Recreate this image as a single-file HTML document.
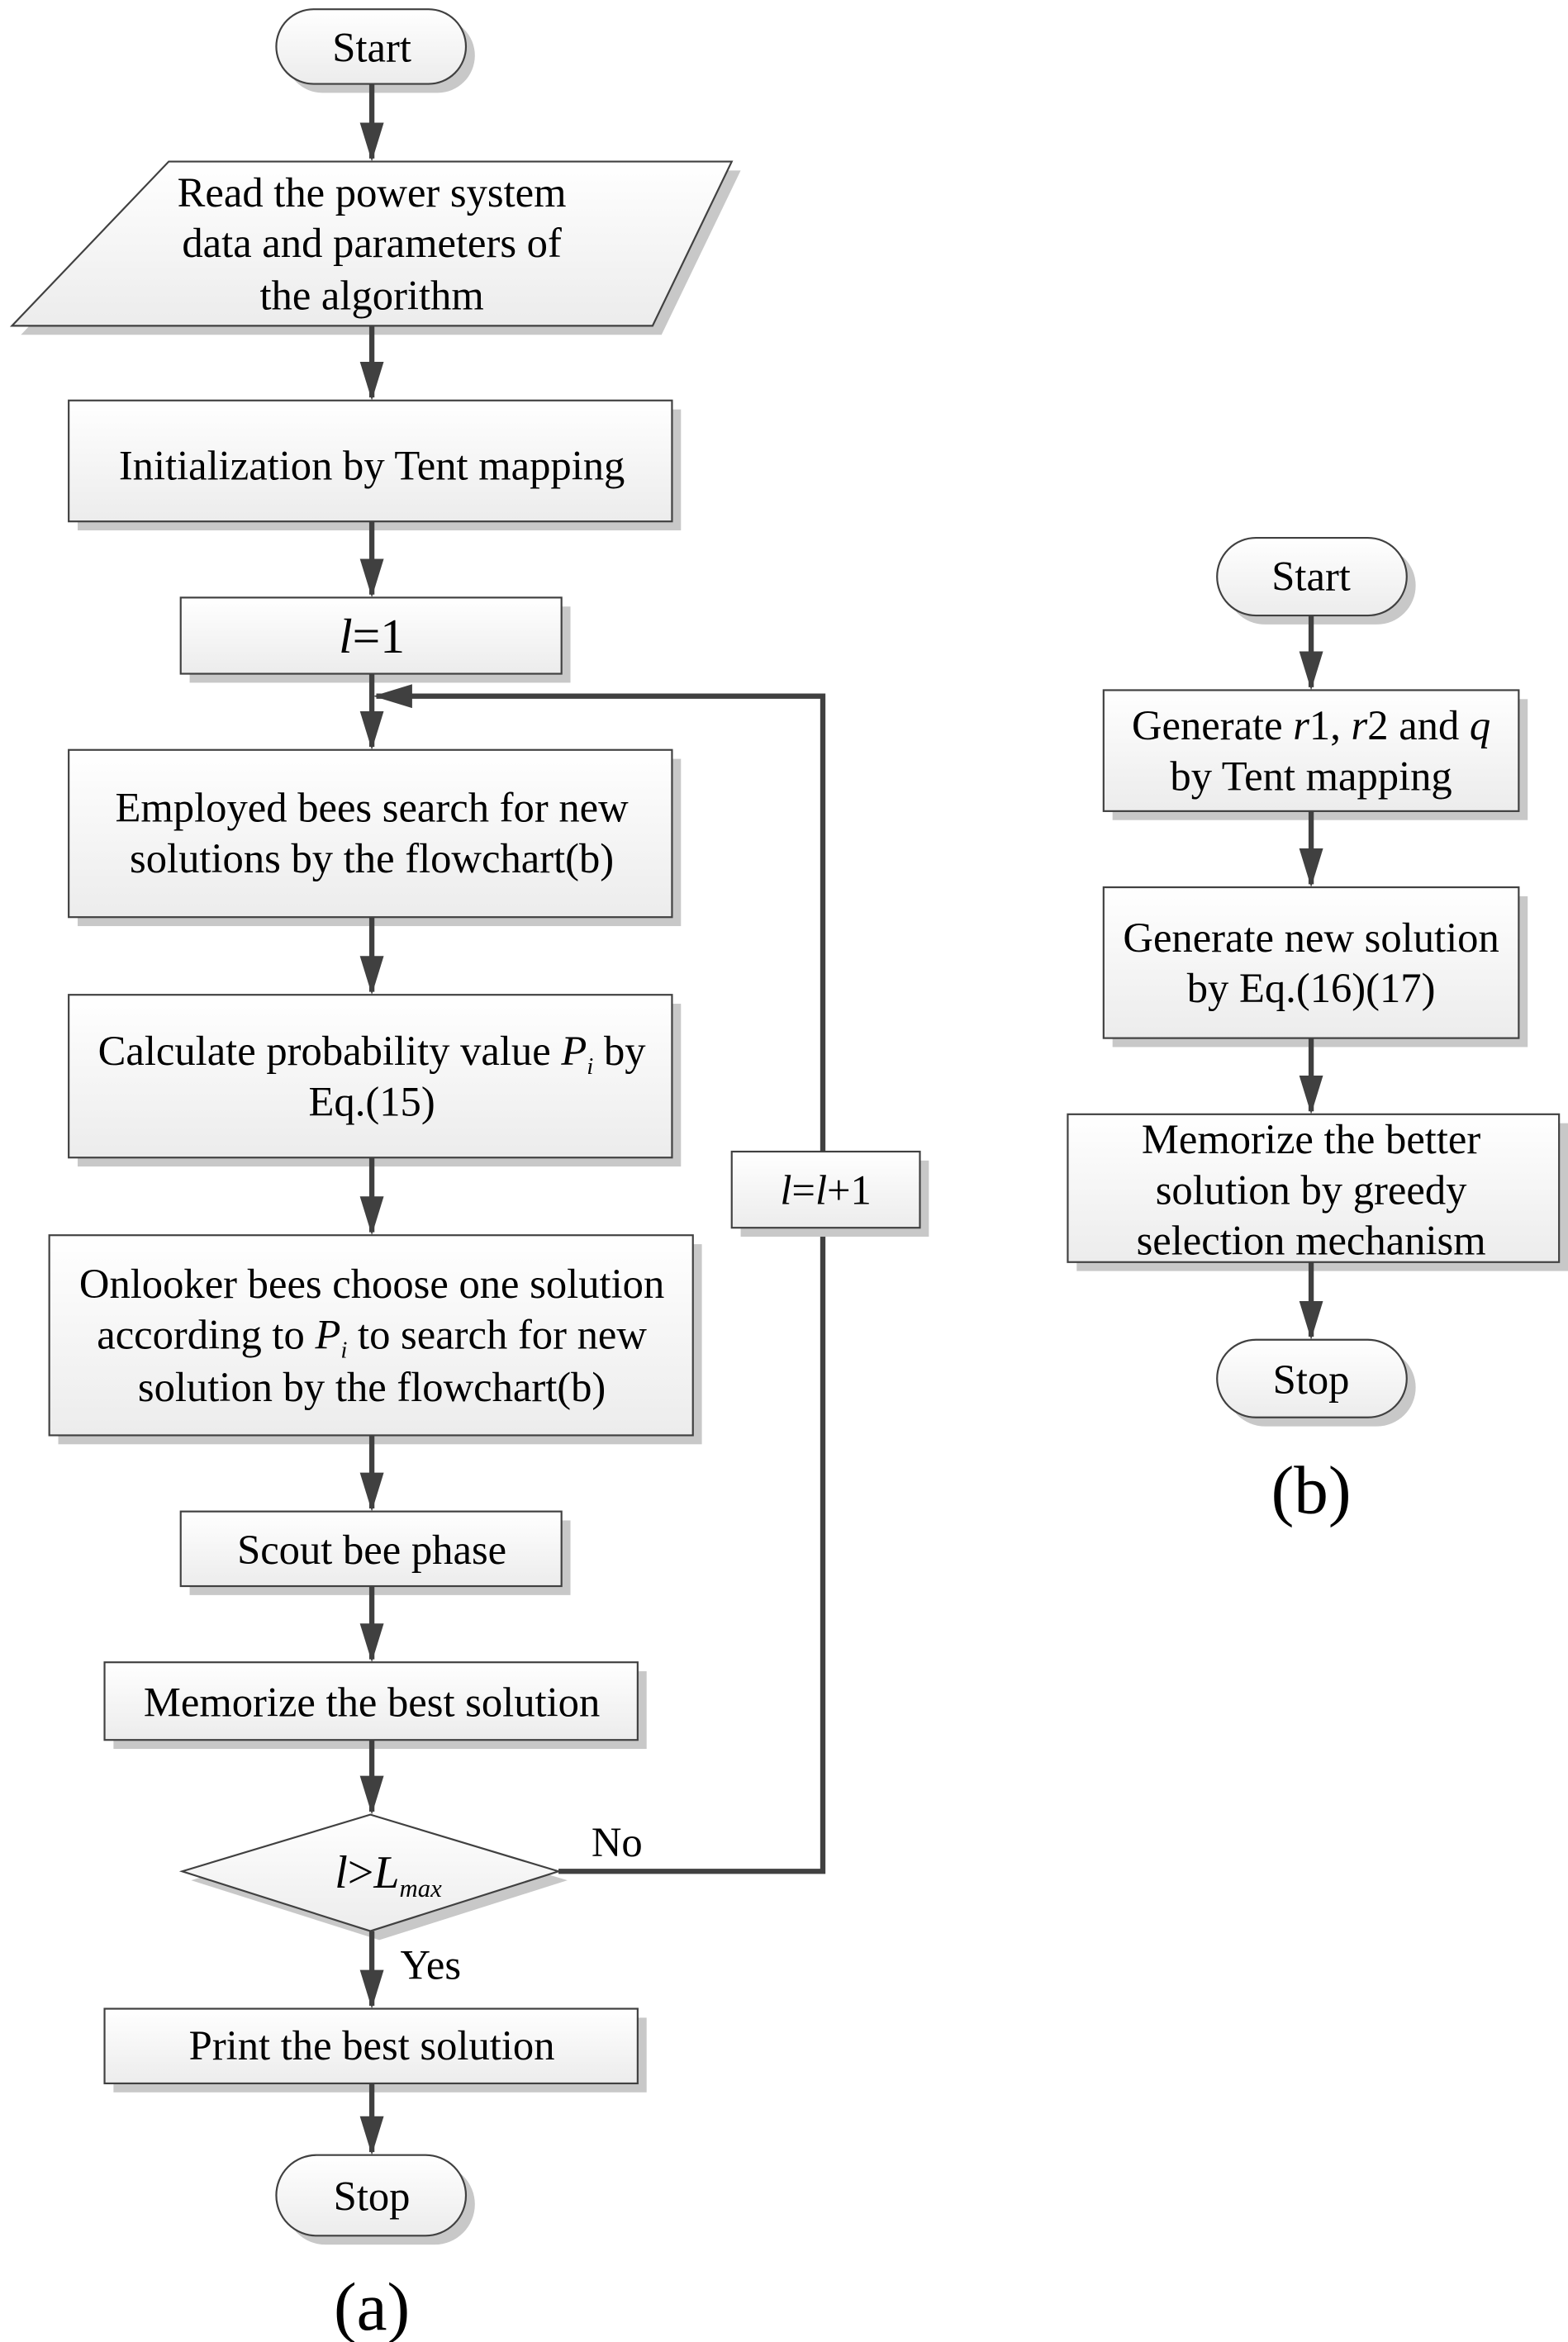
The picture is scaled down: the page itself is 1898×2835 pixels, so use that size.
<!DOCTYPE html>
<html><head><meta charset="utf-8"><style>html,body{margin:0;padding:0;background:#fff}svg{display:block}</style></head>
<body>
<svg width="1898" height="2835" viewBox="0 0 1050 1568" xmlns="http://www.w3.org/2000/svg" font-family="Liberation Serif, serif" font-size="28" fill="#000">
<defs>
<linearGradient id="g" x1="0" y1="0" x2="0" y2="1"><stop offset="0" stop-color="#ffffff"/><stop offset="1" stop-color="#ececec"/></linearGradient>
<marker id="ah" markerWidth="26" markerHeight="16" refX="24" refY="8" orient="auto" markerUnits="userSpaceOnUse" viewBox="0 0 26 16"><path d="M0,0 L26,8 L0,16 Z" fill="#404040"/></marker>
</defs>
<g stroke="#404040" stroke-width="3.5" fill="none" marker-end="url(#ah)">
<polyline points="374,1253 551,1253 551,466 252,466"/>
</g>
<g fill="#c8c8c8">
<rect x="191" y="12" width="127" height="50" rx="25"/>
<polygon points="119,114 496,114 443,224 14,224"/>
<rect x="52" y="274" width="404" height="81"/>
<rect x="127" y="406" width="255" height="51"/>
<rect x="52" y="508" width="404" height="112"/>
<rect x="52" y="672" width="404" height="109"/>
<rect x="39" y="833" width="431" height="134"/>
<rect x="127" y="1018" width="255" height="50"/>
<rect x="76" y="1119" width="357" height="52"/>
<rect x="496" y="777" width="126" height="51"/>
<polygon points="128,1259 254,1221 380,1259 254,1299"/>
<rect x="76" y="1351" width="357" height="50"/>
<rect x="191" y="1449" width="127" height="54" rx="27"/>
<rect x="821" y="366" width="127" height="52" rx="26"/>
<rect x="745" y="468" width="278" height="81"/>
<rect x="745" y="600" width="278" height="101"/>
<rect x="721" y="752" width="329" height="99"/>
<rect x="821" y="903" width="127" height="52" rx="26"/>
</g>
<g fill="url(#g)" stroke="#404040" stroke-width="1.2">
<rect x="185" y="6" width="127" height="50" rx="25"/>
<polygon points="113,108 490,108 437,218 8,218"/>
<rect x="46" y="268" width="404" height="81"/>
<rect x="121" y="400" width="255" height="51"/>
<rect x="46" y="502" width="404" height="112"/>
<rect x="46" y="666" width="404" height="109"/>
<rect x="33" y="827" width="431" height="134"/>
<rect x="121" y="1012" width="255" height="50"/>
<rect x="70" y="1113" width="357" height="52"/>
<rect x="490" y="771" width="126" height="51"/>
<polygon points="122,1253 248,1215 374,1253 248,1293"/>
<rect x="70" y="1345" width="357" height="50"/>
<rect x="185" y="1443" width="127" height="54" rx="27"/>
<rect x="815" y="360" width="127" height="52" rx="26"/>
<rect x="739" y="462" width="278" height="81"/>
<rect x="739" y="594" width="278" height="101"/>
<rect x="715" y="746" width="329" height="99"/>
<rect x="815" y="897" width="127" height="52" rx="26"/>
</g>
<g stroke="#404040" stroke-width="3.5" fill="none" marker-end="url(#ah)">
<line x1="249" y1="56" x2="249" y2="106"/>
<line x1="249" y1="218" x2="249" y2="266"/>
<line x1="249" y1="349" x2="249" y2="398"/>
<line x1="249" y1="451" x2="249" y2="500"/>
<line x1="249" y1="614" x2="249" y2="664"/>
<line x1="249" y1="775" x2="249" y2="825"/>
<line x1="249" y1="961" x2="249" y2="1010"/>
<line x1="249" y1="1062" x2="249" y2="1111"/>
<line x1="249" y1="1165" x2="249" y2="1213"/>
<line x1="249" y1="1293" x2="249" y2="1343"/>
<line x1="249" y1="1395" x2="249" y2="1441"/>
<line x1="878" y1="412" x2="878" y2="460"/>
<line x1="878" y1="543" x2="878" y2="592"/>
<line x1="878" y1="695" x2="878" y2="744"/>
<line x1="878" y1="845" x2="878" y2="895"/>
</g>
<g text-anchor="middle">
<text x="249" y="138">Read the power system</text>
<text x="249" y="172">data and parameters of</text>
<text x="249" y="207">the algorithm</text>
<text x="249" y="41">Start</text>
<text x="249" y="321">Initialization by Tent mapping</text>
<text x="249" y="437" font-size="33"><tspan font-style="italic">l</tspan>=1</text>
<text x="249" y="550">Employed bees search for new</text>
<text x="249" y="584">solutions by the flowchart(b)</text>
<text x="249" y="713">Calculate probability value <tspan font-style="italic">P</tspan><tspan font-style="italic" font-size="16" dy="6">i</tspan><tspan dy="-6"> by</tspan></text>
<text x="249" y="747">Eq.(15)</text>
<text x="249" y="869">Onlooker bees choose one solution</text>
<text x="249" y="903">according to <tspan font-style="italic">P</tspan><tspan font-style="italic" font-size="16" dy="6">i</tspan><tspan dy="-6"> to search for new</tspan></text>
<text x="249" y="938">solution by the flowchart(b)</text>
<text x="249" y="1047">Scout bee phase</text>
<text x="249" y="1149">Memorize the best solution</text>
<text x="260" y="1264" font-size="31"><tspan font-style="italic">l</tspan>&gt;<tspan font-style="italic">L</tspan><tspan font-style="italic" font-size="17" dy="6">max</tspan></text>
<text x="249" y="1379">Print the best solution</text>
<text x="249" y="1480">Stop</text>
<text x="553" y="806"><tspan font-style="italic">l</tspan>=<tspan font-style="italic">l</tspan>+1</text>
<text x="249" y="1560" font-size="46">(a)</text>
<text x="878" y="395">Start</text>
<text x="878" y="495">Generate <tspan font-style="italic">r</tspan>1, <tspan font-style="italic">r</tspan>2 and <tspan font-style="italic">q</tspan></text>
<text x="878" y="529">by Tent mapping</text>
<text x="878" y="637">Generate new solution</text>
<text x="878" y="671">by Eq.(16)(17)</text>
<text x="878" y="772">Memorize the better</text>
<text x="878" y="806">solution by  greedy</text>
<text x="878" y="840">selection mechanism</text>
<text x="878" y="933">Stop</text>
<text x="878" y="1013" font-size="46">(b)</text>
</g>
<text x="396" y="1243">No</text>
<text x="268" y="1325">Yes</text>
</svg>
</body></html>
